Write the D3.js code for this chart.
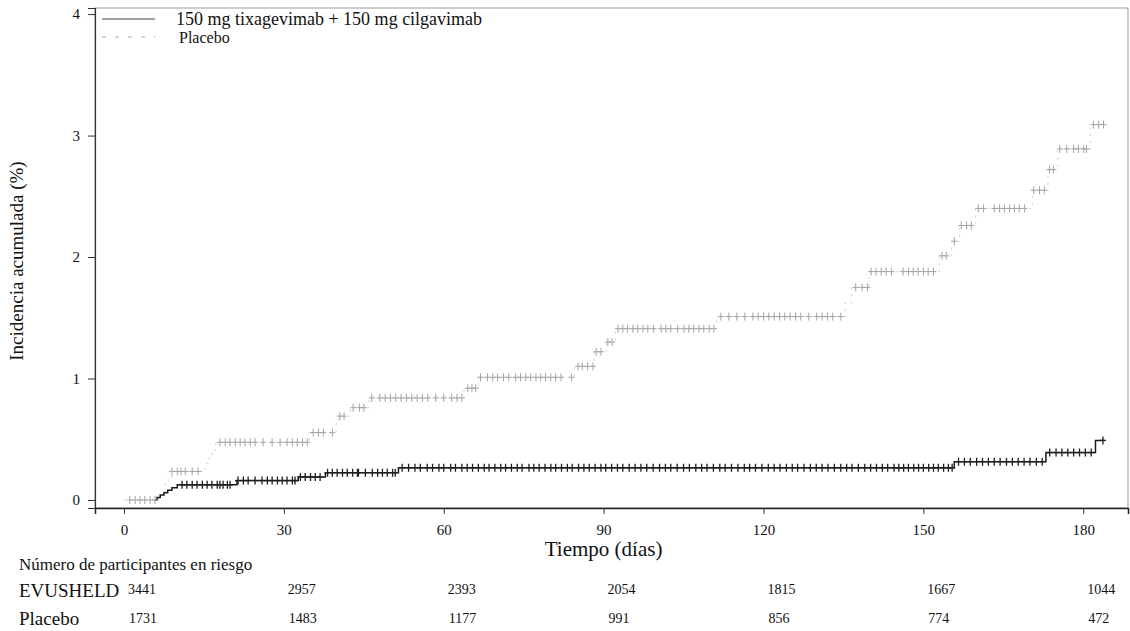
<!DOCTYPE html>
<html>
<head>
<meta charset="utf-8">
<script src="https://cdn.jsdelivr.net/npm/d3@7"></script>
<style>
  body { margin: 0; background: #fff; }
  text { font-family: "Liberation Serif", "Times New Roman", serif; fill: #111; }
</style>
</head>
<body>
<div id="chart-area"></div>
<script>
// step curves (day of step, cumulative incidence %)
var evuDays = [5.8, 6.2, 6.8, 7.5, 8.2, 9, 10, 21.2, 32.7, 37.8, 51.5, 155.8, 173, 182.3, 184];
var evuPct  = [0, 0.02, 0.04, 0.06, 0.08, 0.10, 0.125, 0.16, 0.19, 0.225, 0.265, 0.315, 0.39, 0.49, 0.49];

var plaDays = [0, 6.5, 7.2, 7.8, 8.3, 9, 15.3, 16, 16.5, 17.2, 34.8, 39.8, 40.3, 42.5, 46, 63.8, 66.5,
               84.5, 88.2, 90.5, 92.2, 111.2, 135.3, 136.5, 139.8, 153, 155.3, 156.8, 159.8, 170.5,
               173.4, 175.2, 181.3, 184.5];
var plaPct  = [0, 0.03, 0.07, 0.14, 0.18, 0.235, 0.30, 0.36, 0.41, 0.475, 0.555, 0.64, 0.69, 0.76, 0.84,
               0.92, 1.01, 1.10, 1.22, 1.30, 1.41, 1.51, 1.62, 1.75, 1.88, 2.01, 2.13, 2.26, 2.40, 2.55,
               2.72, 2.89, 3.09, 3.09];

// censored observations (days)
var evuCensor = [10.9, 11.8, 12.8, 13.7, 14.7, 15.6, 16.5, 17.5, 18, 18.6, 19.4, 19.9,
  21.4, 22.4, 23.3, 24.6, 25.9, 26.9, 27.8, 28.8, 29.7, 30.6, 31.6, 32.1,
  33.1, 34, 35, 35.9, 36.8,
  38.2, 39.1, 40, 41, 41.9, 42.9, 43.8, 44, 45.3, 46.6, 47.6, 48.5, 49.4, 50.4, 50.9,
  52.2, 53.4, 54.6, 55.6, 56.9, 57.9, 59.1, 60, 61.3, 62.2, 63.4, 64.4, 65.4, 66.5, 67.6, 68.5,
  69.6, 70.7, 71.6, 72.7, 73.8, 74.7, 76, 76.9, 77.9, 79, 80.1, 81, 82.1, 83.2, 84.1, 85.3, 86.3,
  87.3, 88.4, 89.5, 90.4, 91.5, 92.6, 93.6, 94.8, 95.9, 97, 98.1, 99.3, 100.5, 101.6, 102.6, 103.8,
  105, 106.1, 107.3, 108.4, 109.4, 110.6, 111.8, 112.8, 114, 115.2, 116.4, 117.4, 118.5, 119.7,
  120.9, 122, 123.1, 124.3, 125.4, 126.4, 127.6, 128.8, 129.9, 131, 132.1, 133.3, 134.5, 135.6,
  136.6, 137.8, 139, 140.1, 141.2, 142.3, 143.3, 144.5, 145.4, 146.3, 147.2, 148.2, 149.1, 150,
  151, 151.9, 152.8, 153.8, 154.7, 155.4,
  156.6, 157.7, 158.8, 160, 161.1, 162.2, 163.3, 164.4, 165.6, 166.7, 167.8, 168.9, 170, 171.2, 172.3,
  173.7, 174.9, 176, 177.1, 178.2, 179.3, 180.4, 181.5, 183.7];

var plaCensor = [1.1, 2.1, 3.0, 3.9, 4.9, 5.8,
  9.0, 10.0, 10.7, 11.5, 12.8, 13.9,
  18.0, 19.0, 19.9, 20.9, 21.8, 22.7, 23.7, 24.6, 26.1, 27.8, 29.3, 30.6, 31.6, 32.5, 33.5, 34.4,
  35.5, 36.5, 37.4, 39.1, 40.5, 41.3, 43, 44.2, 45,
  46.5, 48, 49, 50, 51, 52, 53, 54, 55, 56, 57, 58.5, 60, 61.5, 62.5, 63.4,
  64.5, 65.3, 66,
  66.9, 68.2, 69.2, 70.1, 71.2, 72.2, 73.5, 74.4, 75.4, 76.3, 77.3, 78.2, 79.1, 80.1, 81.0, 82.0, 84.0,
  85.2, 86, 87, 88, 88.6, 89.5, 90.8, 91.6,
  92.7, 93.6, 94.5, 95.5, 96.4, 97.4, 98.3, 99.4, 100.8, 101.7, 102.6, 103.9, 105.1, 106, 106.9,
  107.9, 108.8, 109.8, 110.7,
  112, 113.5, 115, 116.5, 118, 119, 120, 121, 122, 123, 124, 125, 126, 127, 128.5, 130, 131, 132,
  133, 134.5,
  137.3, 138.5, 139.5,
  140.2, 141.1, 142.1, 143, 144, 146.2, 147.2, 148.1, 149, 150, 150.9, 151.9,
  153.5, 154.3, 155.8, 157.1, 158.1, 159,
  160.3, 161.3, 163.3, 164.3, 165.2, 166.2, 167.1, 168, 169,
  170.7, 171.8, 172.7, 173.7, 174.4,
  175.6, 176.9, 178.2, 179.1, 180.1, 180.6,
  181.9, 182.9, 183.8];

// numbers at risk
var riskDays = [0, 30, 60, 90, 120, 150, 180];
var riskEvusheld = [3441, 2957, 2393, 2054, 1815, 1667, 1044];
var riskPlacebo = [1731, 1483, 1177, 991, 856, 774, 472];

var yTicks = [0, 1, 2, 3, 4];
var xTicks = [0, 30, 60, 90, 120, 150, 180];

var margin = { left: 95, right: 2, top: 8, bottom: 123 };
var width = 1130 - margin.left - margin.right,
    height = 631 - margin.top - margin.bottom;

var canvas = d3.select("#chart-area")
    .append("svg")
    .attr("width", 1130)
    .attr("height", 631);

var g = canvas.append("g")
    .attr("transform", "translate(" + margin.left + "," + margin.top + ")");

var xScale = d3.scaleLinear().domain([-5.44, 188.4]).range([0, width]);
var yScale = d3.scaleLinear().domain([-0.066, 4.05]).range([height, 0]);

// frame
g.append("rect")
    .attr("width", width).attr("height", height)
    .attr("fill", "none").attr("stroke", "#999").attr("stroke-width", 1);

// axes
var bottomAxis = d3.axisBottom(xScale).tickValues(xTicks).tickSize(6).tickPadding(10);
var leftAxis = d3.axisLeft(yScale).tickValues(yTicks).tickSize(7).tickPadding(8)
    .tickFormat(d3.format("d"));

var gx = g.append("g")
    .attr("class", "x axis")
    .attr("transform", "translate(0," + height + ")")
    .call(bottomAxis);
var gy = g.append("g")
    .attr("class", "y axis")
    .call(leftAxis);

gx.select(".domain").attr("stroke", "#222").attr("stroke-width", 1.5);
gy.select(".domain").attr("stroke", "#333").attr("stroke-width", 1.2);
gx.selectAll(".tick line").attr("stroke", "#333");
gy.selectAll(".tick line").attr("stroke", "#333");
gx.selectAll("text").style("font-family", "Liberation Serif").attr("font-size", "15px").attr("fill", "#222");
gy.selectAll("text").style("font-family", "Liberation Serif").attr("font-size", "15px").attr("fill", "#222");

// axis labels
g.append("text")
    .attr("x", xScale(90))
    .attr("y", height + 48)
    .attr("font-size", "21px")
    .attr("text-anchor", "middle")
    .text("Tiempo (días)");

g.append("text")
    .attr("transform", "rotate(-90)")
    .attr("x", -(yScale(2) + 4))
    .attr("y", -72)
    .attr("font-size", "19px")
    .attr("text-anchor", "middle")
    .text("Incidencia acumulada (%)");

// curves
var line = d3.line()
    .x(d => xScale(d[0]))
    .y(d => yScale(d[1]))
    .curve(d3.curveStepAfter);

var evuData = evuDays.map((d, i) => [d, evuPct[i]]);
var plaData = plaDays.map((d, i) => [d, plaPct[i]]);

g.append("path")
    .datum(plaData)
    .attr("d", line)
    .attr("fill", "none")
    .attr("stroke", "#cccccc")
    .attr("stroke-width", 1)
    .attr("stroke-dasharray", "2,5");

g.append("path")
    .datum(evuData)
    .attr("d", line)
    .attr("fill", "none")
    .attr("stroke", "#1a1a1a")
    .attr("stroke-width", 1.5);

function valueAt(days, pcts, t) {
  var i = d3.bisectRight(days, t) - 1;
  return pcts[Math.max(0, i)];
}

var cross = "M0,-4V4M-3,0H3";

g.selectAll(".pla-censor")
  .data(plaCensor)
  .enter()
  .append("path")
    .attr("class", "pla-censor")
    .attr("d", cross)
    .attr("transform", d => "translate(" + xScale(d) + "," + yScale(valueAt(plaDays, plaPct, d)) + ")")
    .attr("stroke", "#a4a4a4")
    .attr("stroke-width", 1)
    .attr("fill", "none");

g.selectAll(".evu-censor")
  .data(evuCensor)
  .enter()
  .append("path")
    .attr("class", "evu-censor")
    .attr("d", cross)
    .attr("transform", d => "translate(" + xScale(d) + "," + yScale(valueAt(evuDays, evuPct, d)) + ")")
    .attr("stroke", "#1f1f1f")
    .attr("stroke-width", 1.3)
    .attr("fill", "none");

// legend
var legend = g.append("g").attr("transform", "translate(7,11)");
legend.append("line")
    .attr("x1", 0).attr("x2", 53).attr("y1", 0).attr("y2", 0)
    .attr("stroke", "#444").attr("stroke-width", 1);
legend.append("text")
    .attr("x", 74).attr("y", 6)
    .attr("font-size", "18px")
    .text("150 mg tixagevimab + 150 mg cilgavimab");
legend.append("line")
    .attr("x1", 0).attr("x2", 53).attr("y1", 18).attr("y2", 18)
    .attr("stroke", "#aaa").attr("stroke-width", 1)
    .attr("stroke-dasharray", "4,9");
legend.append("text")
    .attr("x", 77).attr("y", 24)
    .attr("font-size", "16px")
    .text("Placebo");

// numbers at risk table
canvas.append("text")
    .attr("x", 19).attr("y", 570)
    .attr("font-size", "17px")
    .text("Número de participantes en riesgo");
canvas.append("text")
    .attr("x", 19).attr("y", 597)
    .attr("font-size", "19px")
    .text("EVUSHELD");
canvas.append("text")
    .attr("x", 19).attr("y", 625)
    .attr("font-size", "19px")
    .text("Placebo");

canvas.selectAll(".risk-evu")
  .data(riskEvusheld)
  .enter()
  .append("text")
    .attr("class", "risk-evu")
    .attr("x", (d, i) => margin.left + xScale(riskDays[i]) + 4)
    .attr("y", 594)
    .attr("font-size", "14px")
    .text(d => d);

canvas.selectAll(".risk-pla")
  .data(riskPlacebo)
  .enter()
  .append("text")
    .attr("class", "risk-pla")
    .attr("x", (d, i) => margin.left + xScale(riskDays[i]) + 5)
    .attr("y", 623)
    .attr("font-size", "14px")
    .text(d => d);
</script>
</body>
</html>
